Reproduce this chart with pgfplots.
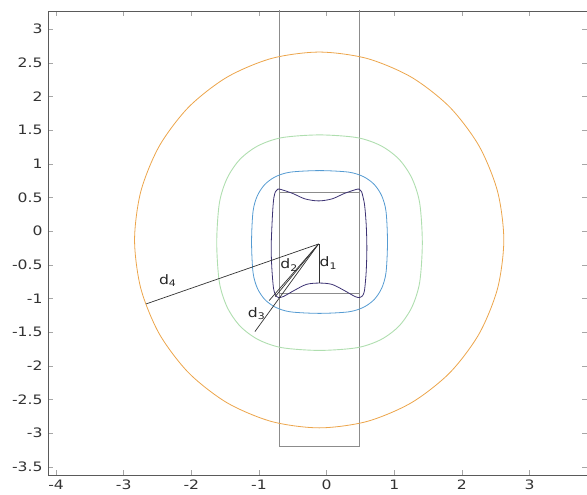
\documentclass[border=0pt]{standalone}
\usepackage{fontspec}
\setmainfont{DejaVu Sans}
\newfontfamily\tickfont[FakeStretch=1.2]{DejaVu Sans}
\usepackage{pgfplots}
\pgfplotsset{compat=1.18}
\definecolor{corange}{RGB}{236,165,75}
\definecolor{cgreen}{RGB}{175,222,175}
\definecolor{cblue}{RGB}{85,155,210}
\definecolor{cpurple}{RGB}{60,50,115}
\definecolor{crect}{RGB}{140,140,140}
\definecolor{cdl}{RGB}{50,50,50}
\definecolor{caxis}{RGB}{90,90,90}
\begin{document}
\begin{tikzpicture}
\begin{axis}[
  scale only axis,
  width=539pt, height=464pt,
  xmin=-4.12, xmax=3.85,
  ymin=-3.62, ymax=3.27,
  xtick={-4,-3,-2,-1,0,1,2,3},
  ytick={-3.5,-3,-2.5,-2,-1.5,-1,-0.5,0,0.5,1,1.5,2,2.5,3},
  tick pos=both,
  tick align=inside,
  major tick length=5pt,
  tick style={color=gray!70, line width=0.6pt},
  axis line style={color=caxis, line width=0.8pt},
  /pgf/number format/assume math mode=true,
  tick label style={font=\tickfont\fontsize{13}{15}\selectfont, text=black!80},
  xticklabel style={yshift=-1pt},
  yticklabel style={xshift=-2pt},
]
% tall rectangle
\addplot[crect, line width=0.7pt] coordinates {(-0.705,3.6) (-0.705,-3.19) (0.49,-3.19) (0.49,3.6)};
% inner rectangle horizontals
\addplot[crect, line width=0.7pt] coordinates {(-0.705,0.58) (0.49,0.58)};
\addplot[crect, line width=0.7pt] coordinates {(-0.705,-0.93) (0.49,-0.93)};
% orange circle
\addplot[corange, line width=0.8pt, smooth cycle, tension=0.5] coordinates {
(2.62,-0.13) (2.527,0.592) (2.254,1.265) (1.820,1.843) (1.255,2.286) (0.597,2.565) (-0.11,2.66)
(-0.817,2.565) (-1.475,2.286) (-2.040,1.843) (-2.474,1.265) (-2.747,0.592) (-2.84,-0.13)
(-2.747,-0.852) (-2.474,-1.525) (-2.040,-2.103) (-1.475,-2.546) (-0.817,-2.825) (-0.11,-2.92)
(0.597,-2.825) (1.255,-2.546) (1.820,-2.103) (2.254,-1.525) (2.527,-0.852)};
% green
\addplot[cgreen, line width=0.9pt, smooth cycle, tension=0.5] coordinates {
(1.415,-0.17) (1.376,0.418) (1.261,0.787) (1.071,1.068) (0.805,1.268) (0.453,1.389) (-0.105,1.43)
(-0.663,1.389) (-1.015,1.268) (-1.281,1.068) (-1.471,0.787) (-1.586,0.418) (-1.625,-0.17)
(-1.586,-0.758) (-1.471,-1.127) (-1.281,-1.408) (-1.015,-1.608) (-0.663,-1.729) (-0.105,-1.77)
(0.453,-1.729) (0.805,-1.608) (1.071,-1.408) (1.261,-1.127) (1.376,-0.758)};
% blue
\addplot[cblue, line width=0.8pt, smooth cycle, tension=0.5] coordinates {
(0.90,-0.16) (0.878,0.295) (0.814,0.527) (0.704,0.694) (0.547,0.809) (0.327,0.877) (-0.105,0.90)
(-0.537,0.877) (-0.757,0.809) (-0.914,0.694) (-1.024,0.527) (-1.088,0.295) (-1.11,-0.16)
(-1.088,-0.615) (-1.024,-0.847) (-0.914,-1.014) (-0.757,-1.129) (-0.537,-1.197) (-0.105,-1.22)
(0.327,-1.197) (0.547,-1.129) (0.704,-1.014) (0.814,-0.847) (0.878,-0.615)};
% purple
\addplot[cpurple, line width=0.8pt, smooth] coordinates {
(-0.76,0.58) (-0.72,0.625) (-0.66,0.615) (-0.50,0.56) (-0.32,0.48) (-0.12,0.45) (0.08,0.48) (0.26,0.56) (0.42,0.615) (0.48,0.625) (0.52,0.58)};
\addplot[cpurple, line width=0.8pt, smooth] coordinates {
(0.52,0.58) (0.56,0.40) (0.585,0.1) (0.595,-0.25) (0.585,-0.6) (0.56,-0.88) (0.53,-0.96)};
\addplot[cpurple, line width=0.8pt, smooth] coordinates {
(0.53,-0.96) (0.49,-0.985) (0.42,-0.97) (0.26,-0.88) (0.08,-0.79) (-0.11,-0.77) (-0.30,-0.79) (-0.48,-0.88) (-0.64,-0.97) (-0.71,-0.985) (-0.75,-0.96)};
\addplot[cpurple, line width=0.8pt, smooth] coordinates {
(-0.75,-0.96) (-0.785,-0.85) (-0.81,-0.55) (-0.82,-0.25) (-0.81,0.05) (-0.795,0.34) (-0.78,0.5) (-0.76,0.58)};
% d lines
\addplot[cdl, line width=0.7pt] coordinates {(-0.11,-0.19) (-0.11,-0.77)};
\addplot[cdl, line width=0.7pt] coordinates {(-0.12,-0.19) (-0.76,-0.97)};
\addplot[cdl, line width=0.7pt] coordinates {(-0.12,-0.19) (-0.85,-1.03)};
\addplot[cdl, line width=0.7pt] coordinates {(-0.12,-0.19) (-1.06,-1.49)};
\addplot[cdl, line width=0.7pt] coordinates {(-0.12,-0.19) (-2.67,-1.08)};
% labels
\node[font=\tickfont\fontsize{13}{15}\selectfont, text=black!85] at (axis cs:-2.35,-0.73) {d\textsubscript{4}};
\node[font=\tickfont\fontsize{13}{15}\selectfont, text=black!85] at (axis cs:-1.035,-1.226) {d\textsubscript{3}};
\node[font=\tickfont\fontsize{13}{15}\selectfont, text=black!85] at (axis cs:-0.555,-0.505) {d\textsubscript{2}};
\node[font=\tickfont\fontsize{13}{15}\selectfont, text=black!85] at (axis cs:0.025,-0.47) {d\textsubscript{1}};
\end{axis}
\pgfresetboundingbox
\path[use as bounding box] (-48pt,-20pt) rectangle (539pt,475pt);
\end{tikzpicture}
\end{document}
